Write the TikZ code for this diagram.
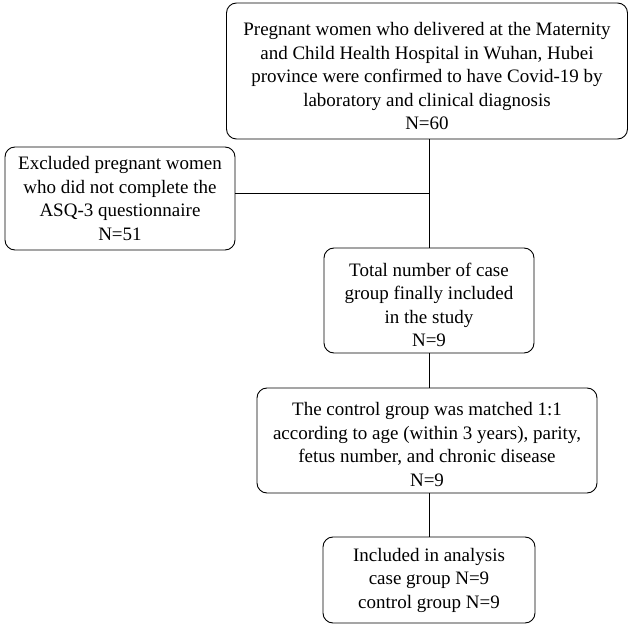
\documentclass[tikz,border=0pt]{standalone}
\usepackage{fontspec}
\setmainfont{Liberation Serif}
\newcommand{\padtop}[1]{\rule{0pt}{#1}}
\tikzset{
  flowbox/.style={draw, rounded corners=10pt, align=center, line width=0.9pt,
    font=\fontsize{19}{23.5}\selectfont, inner sep=2pt}
}
\begin{document}
\begin{tikzpicture}[x=1pt,y=-1pt]
    \useasboundingbox (0,0) rectangle (630,628);

    \node[flowbox, minimum width=401pt, minimum height=136pt] (enrolled) at (427, 71)
        {\padtop{24pt}Pregnant women who delivered at the Maternity\\and Child Health Hospital in Wuhan, Hubei\\province were confirmed to have Covid-19 by\\laboratory and clinical diagnosis\\N=60};
    \node[flowbox, minimum width=230pt, minimum height=103pt] (excluded) at (120, 198.5)
        {Excluded pregnant women\\who did not complete the\\ASQ-3 questionnaire\\N=51};
    \node[flowbox, minimum width=210pt, minimum height=105pt] (cases) at (429, 300.5)
        {\padtop{22pt}Total number of case\\group finally included\\in the study\\N=9};
    \node[flowbox, minimum width=340pt, minimum height=105pt] (controls) at (427, 440.5)
        {\padtop{21pt}The control group was matched 1:1\\according to age (within 3 years), parity,\\fetus number, and chronic disease\\N=9};
    \node[flowbox, minimum width=212pt, minimum height=86pt] (analysis) at (429, 580)
        {Included in analysis\\case group N=9\\control group N=9};

    \draw[line width=0.8pt] (enrolled.south -| cases.north) to (cases.north);
    \draw[line width=0.8pt] ([yshift=5pt]excluded.east) to ([yshift=5pt]excluded.east -| cases.north);
    \draw[line width=0.8pt] (cases.south) to (cases.south |- controls.north);
    \draw[line width=0.8pt] (controls.south -| analysis.north) to (analysis.north);
\end{tikzpicture}
\end{document}
